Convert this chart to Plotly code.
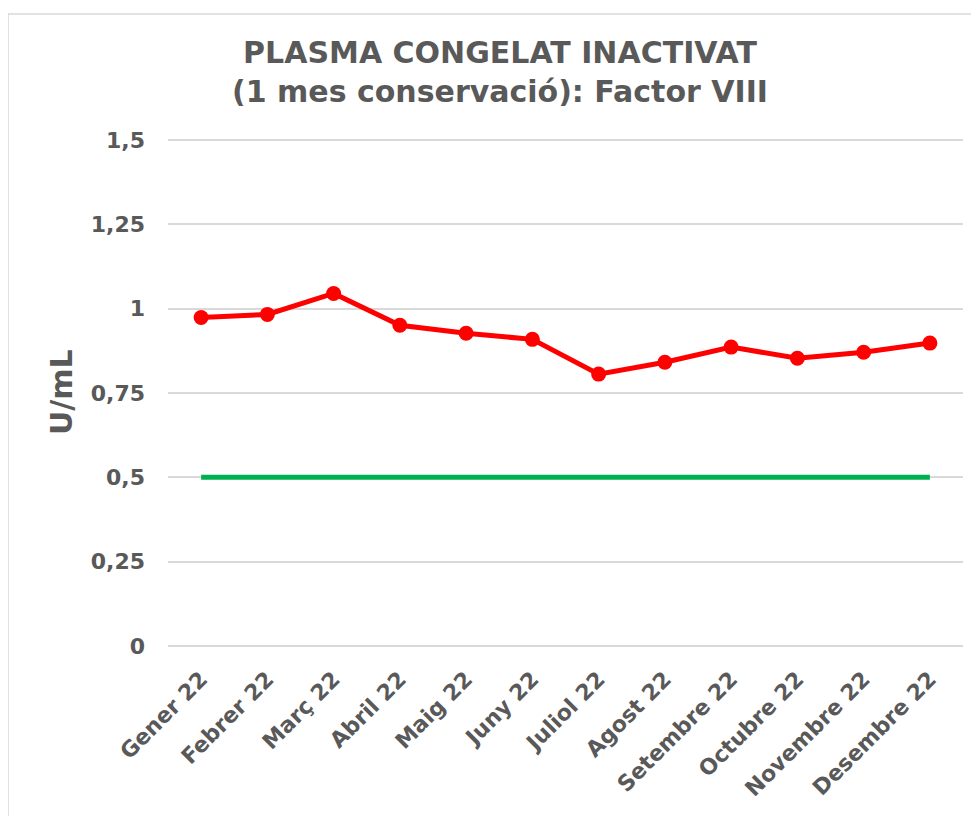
import plotly.graph_objects as go

months = ["Gener 22", "Febrer 22", "Març 22", "Abril 22", "Maig 22", "Juny 22",
          "Juliol 22", "Agost 22", "Setembre 22", "Octubre 22", "Novembre 22", "Desembre 22"]
factor_viii = [0.974, 0.983, 1.045, 0.951, 0.927, 0.909, 0.806, 0.841, 0.886, 0.853, 0.871, 0.898]
limit = [0.5] * 12
ytick_vals = [0, 0.25, 0.5, 0.75, 1, 1.25, 1.5]
ytick_text = ["0", "0,25", "0,5", "0,75", "1", "1,25", "1,5"]

FONT = "DejaVu Sans"
GRAY = "#595959"
OFF = 8  # page body margin

fig = go.Figure()
fig.add_trace(go.Scatter(x=months, y=limit, mode="lines",
                         line=dict(color="#00b050", width=5), showlegend=False))
fig.add_trace(go.Scatter(x=months, y=factor_viii, mode="lines+markers",
                         line=dict(color="#ff0000", width=5),
                         marker=dict(color="#ff0000", size=15), showlegend=False))

W, H = 979 - 2 * OFF, 824 - 2 * OFF
L, T = 168 - OFF, 139 - OFF
pw, ph = 795, 508
R = W - L - pw
B = H - T - ph

fig.add_shape(type="rect", xref="paper", yref="paper",
              x0=(8 - OFF - L) / pw, x1=(W + 30 - L) / pw,
              y0=-(B + 30) / ph, y1=1 + (T - (14 - OFF)) / ph,
              line=dict(color="#d9d9d9", width=1.5), layer="below")

fig.add_annotation(text="U/mL", xref="paper", yref="paper",
                   x=(61 - OFF - L) / pw, y=1 - (392 - 139) / ph,
                   xanchor="center", yanchor="middle", textangle=-90, showarrow=False,
                   font=dict(size=30, color=GRAY, family=FONT, weight="bold"))

fig.update_layout(
    width=W, height=H,
    margin=dict(l=L, r=R, t=T, b=B),
    paper_bgcolor="white", plot_bgcolor="white",
    font=dict(family=FONT, color=GRAY),
    title=dict(text="PLASMA CONGELAT INACTIVAT<br>(1 mes conservació): Factor VIII",
               x=(500 - OFF) / W, xanchor="center", y=1 - (63 - OFF) / H, yanchor="middle",
               font=dict(size=30, color=GRAY, family=FONT, weight="bold")),
    xaxis=dict(tickangle=-45, tickfont=dict(size=22, color=GRAY, family=FONT, weight="bold"),
               showgrid=False, zeroline=False, showline=False, ticks="",
               range=[-0.5, 11.5], ticklabelstandoff=14),
    yaxis=dict(range=[-0.003, 1.503], tickvals=ytick_vals, ticktext=ytick_text,
               tickfont=dict(size=22, color=GRAY, family=FONT, weight="bold"),
               gridcolor="#d9d9d9", gridwidth=1.5, zeroline=False, showline=False,
               ticks="", ticklabelstandoff=22),
)
fig.write_html("out.html")
